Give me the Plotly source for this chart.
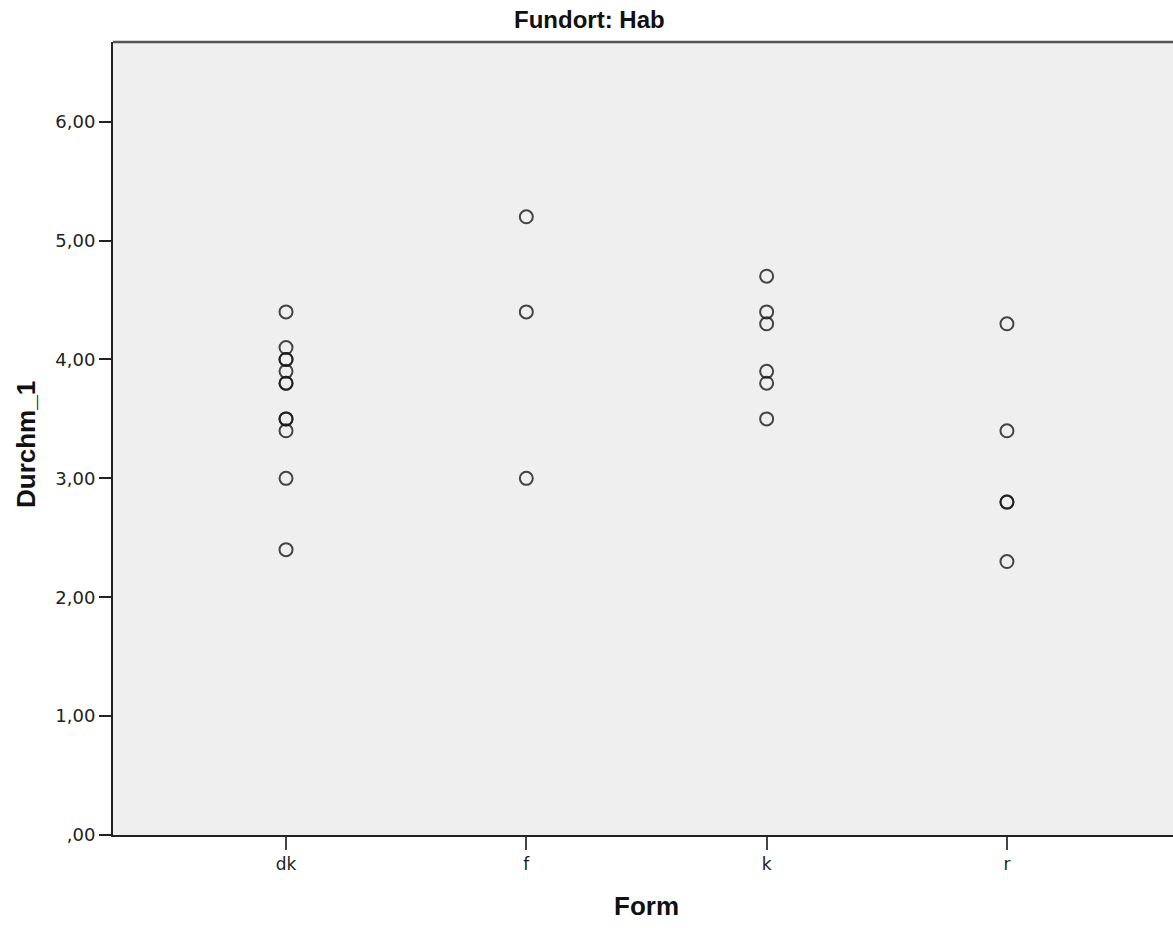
import plotly.graph_objects as go

# Data
categories = ["dk", "f", "k", "r"]
dk_values = [4.4, 4.1, 4.0, 4.0, 3.9, 3.8, 3.8, 3.5, 3.5, 3.4, 3.0, 2.4]
f_values = [5.2, 4.4, 3.0]
k_values = [4.7, 4.4, 4.3, 3.9, 3.8, 3.5]
r_values = [4.3, 3.4, 2.8, 2.8, 2.3]
y_tickvals = [0, 1, 2, 3, 4, 5, 6]
y_ticktext = [",00", "1,00", "2,00", "3,00", "4,00", "5,00", "6,00"]
title_text = "Fundort: Hab"
x_title = "Form"
y_title = "Durchm_1"

series = [dk_values, f_values, k_values, r_values]
xs, ys = [], []
for i, vals in enumerate(series):
    xs += [i] * len(vals)
    ys += vals

W, H = 1173, 928
ml, mr, mt, mb = 113, 0, 42, 93
pw, ph = W - ml - mr, H - mt - mb

def px_x(p):
    return (p - ml) / pw

def px_y(p):
    return (H - mb - p) / ph

FONT = "Liberation Sans, Arial, sans-serif"
TICKFONT = "DejaVu Sans, Verdana, sans-serif"

fig = go.Figure()
fig.add_trace(go.Scatter(
    x=xs, y=ys, mode="markers",
    marker=dict(symbol="circle-open", size=13, color="rgba(25,25,25,0.8)",
                line=dict(width=2, color="rgba(25,25,25,0.8)")),
    hoverinfo="x+y", showlegend=False,
))

fig.update_layout(
    width=W, height=H,
    margin=dict(l=ml, r=mr, t=mt, b=mb, autoexpand=False),
    paper_bgcolor="white",
    plot_bgcolor="#efefef",
    font=dict(family=FONT, color="#222", size=18),
    xaxis=dict(
        range=[-0.72, 3.691], tickvals=[0, 1, 2, 3], ticktext=categories,
        showgrid=False, zeroline=False, showline=True, linecolor="#222", linewidth=2,
        ticks="outside", ticklen=13, tickwidth=2, tickcolor="#444",
        tickfont=dict(size=17, color="#222", family=TICKFONT),
    ),
    yaxis=dict(
        range=[0, 6.67], tickvals=y_tickvals, ticktext=y_ticktext,
        showgrid=False, zeroline=False, showline=True, linecolor="#222", linewidth=2,
        ticks="outside", ticklen=12, tickwidth=2, tickcolor="#222",
        tickfont=dict(size=18, color="#222", family=TICKFONT),
    ),
    shapes=[dict(type="line", xref="paper", yref="paper", x0=0, x1=1, y0=1, y1=1,
                 line=dict(color="#555", width=2.5))],
    annotations=[
        dict(text=f"<b>{title_text}</b>", xref="paper", yref="paper",
             x=px_x(589), y=px_y(19), xanchor="center", yanchor="middle",
             showarrow=False, font=dict(size=24, color="#111", family=FONT)),
        dict(text=f"<b>{x_title}</b>", xref="paper", yref="paper",
             x=px_x(646), y=px_y(906), xanchor="center", yanchor="middle",
             showarrow=False, font=dict(size=26, color="#111", family=FONT)),
        dict(text=f"<b>{y_title}</b>", xref="paper", yref="paper",
             x=px_x(26), y=px_y(445), xanchor="center", yanchor="middle",
             textangle=-90, showarrow=False, font=dict(size=26, color="#111", family=FONT)),
    ],
)

fig.write_html("out.html", config={"displayModeBar": False},
               post_script="document.body.style.margin='0';")
